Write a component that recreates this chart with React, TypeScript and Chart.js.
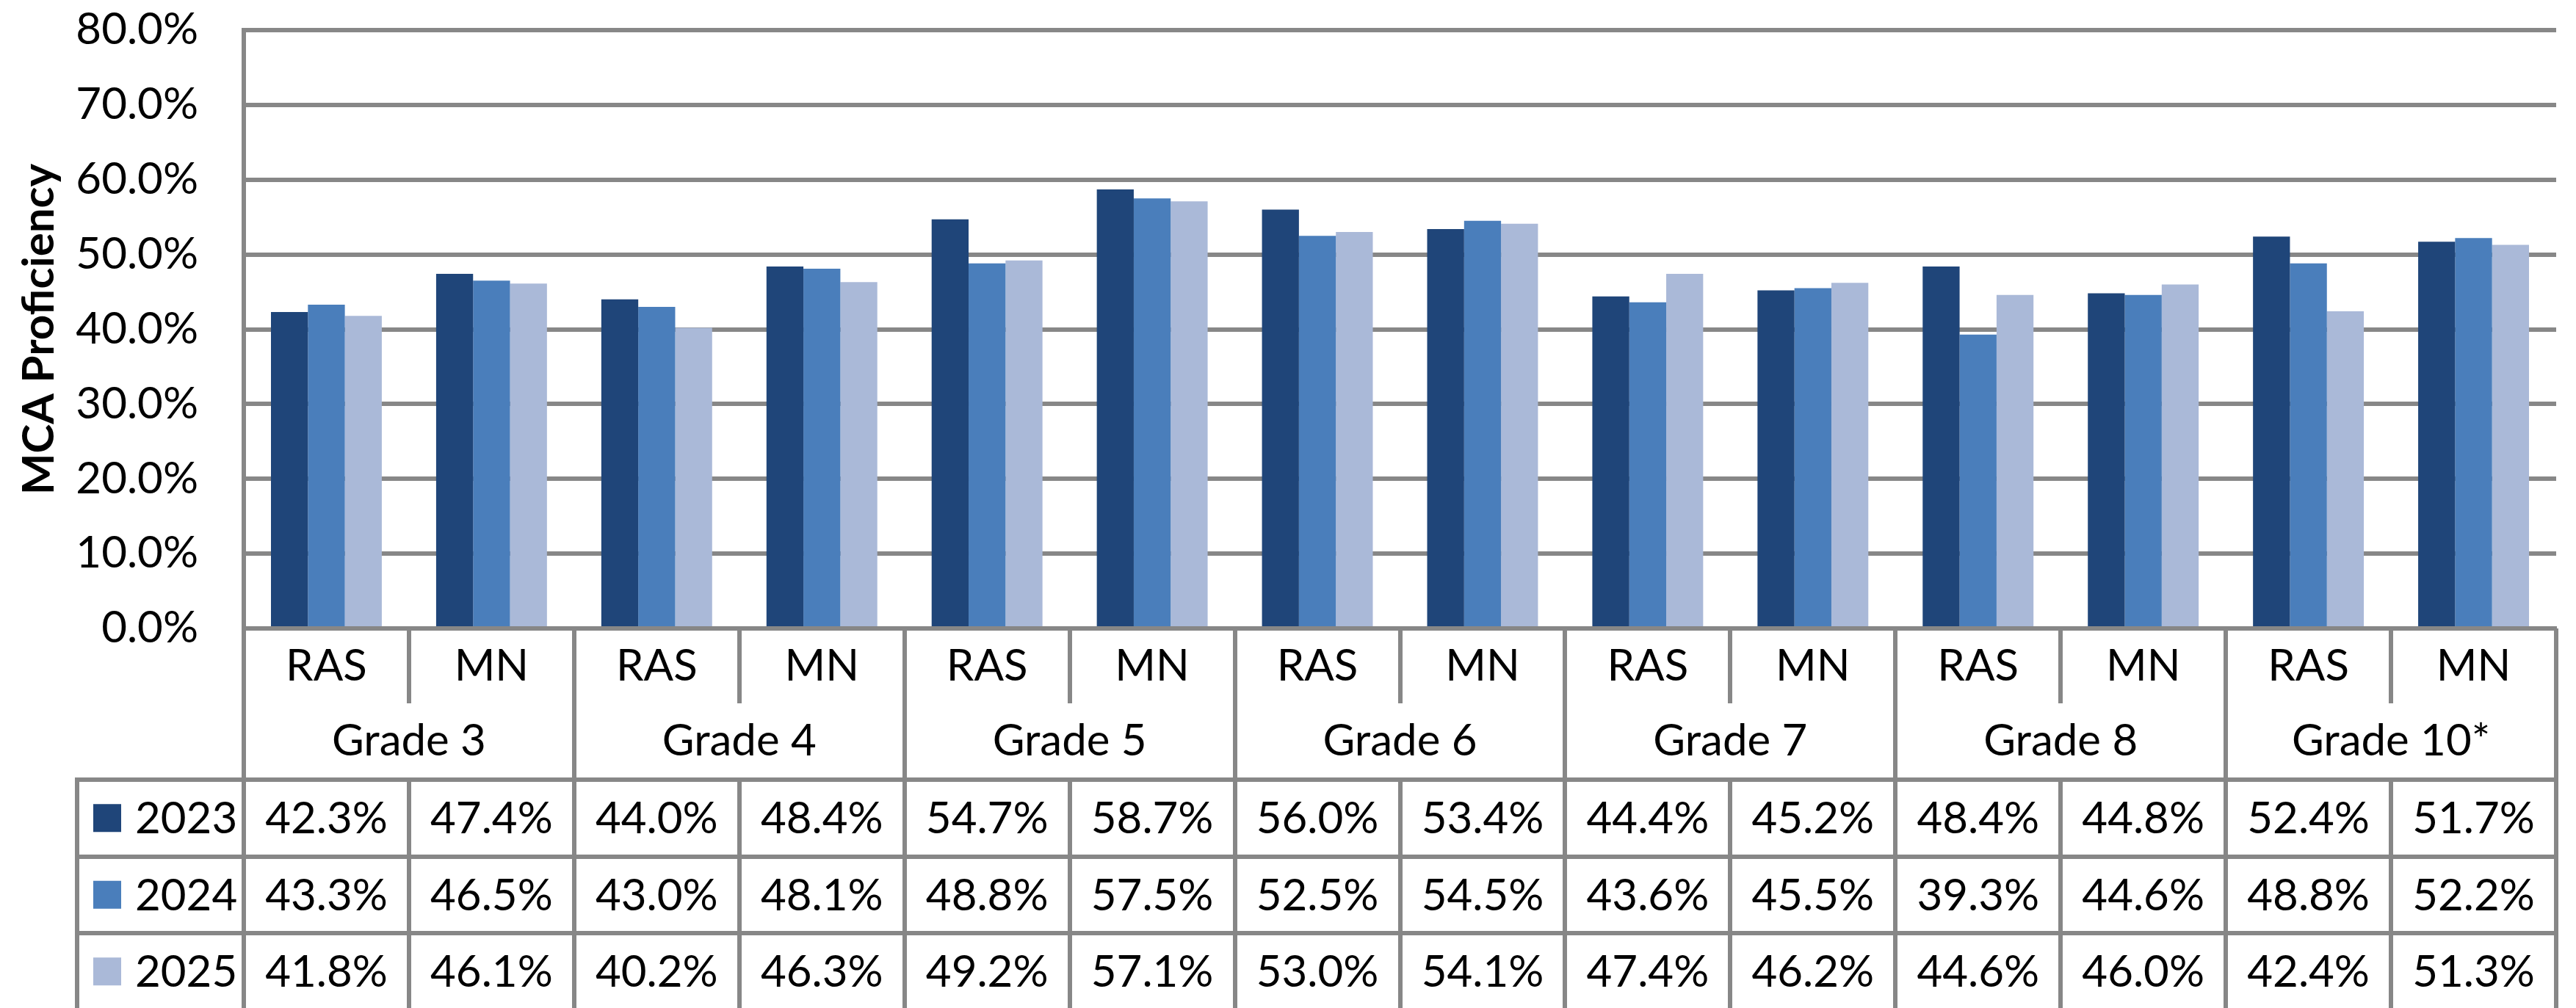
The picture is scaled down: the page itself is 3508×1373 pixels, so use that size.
import React, { useEffect, useRef } from 'react';
import { Chart, registerables } from 'chart.js';

Chart.register(...registerables);

// ---------- data ----------
const subgroups = ['RAS', 'MN', 'RAS', 'MN', 'RAS', 'MN', 'RAS', 'MN', 'RAS', 'MN', 'RAS', 'MN', 'RAS', 'MN'];
const grades = ['Grade 3', 'Grade 4', 'Grade 5', 'Grade 6', 'Grade 7', 'Grade 8', 'Grade 10*'];
const years = ['2023', '2024', '2025'];
const values2023 = [42.3, 47.4, 44.0, 48.4, 54.7, 58.7, 56.0, 53.4, 44.4, 45.2, 48.4, 44.8, 52.4, 51.7];
const values2024 = [43.3, 46.5, 43.0, 48.1, 48.8, 57.5, 52.5, 54.5, 43.6, 45.5, 39.3, 44.6, 48.8, 52.2];
const values2025 = [41.8, 46.1, 40.2, 46.3, 49.2, 57.1, 53.0, 54.1, 47.4, 46.2, 44.6, 46.0, 42.4, 51.3];
const yMin = 0;
const yMax = 80;
const yStep = 10;
const yAxisTitle = 'MCA Proficiency';

// ---------- styles ----------
const W = 3508;
const H = 1373;
const COLORS = ['#1F4579', '#4A7EBB', '#AAB9D8'];
const LINE = '#878787';
const LINE_W = 6;
const FONT = 'Lato';
const FS = 60;

const PLOT_LEFT = 332;
const PLOT_TOP = 41;
const PLOT_RIGHT_PAD = 27;
const PLOT_BOTTOM = 856;
const CAT_ROW_H = 102;
const GRADE_ROW_H = 104;
const DATA_ROW_H = 104.5;
const LEGEND_LEFT = 105;
const SWATCH = 38;
const SWATCH_X = 127;
const LEGEND_TEXT_X = 184;

const seriesValues = [values2023, values2024, values2025];

const tablePlugin = {
  id: 'dataTable',
  afterDraw(chart: any) {
    const { ctx, chartArea } = chart;
    const x = chart.scales.x;
    const n = subgroups.length;
    const left = chartArea.left;
    const right = chartArea.right;
    const cw = (right - left) / n;
    const y0 = chartArea.bottom;
    const catBottom = y0 + CAT_ROW_H;
    const gradeBottom = catBottom + GRADE_ROW_H;
    const tableBottom = gradeBottom + DATA_ROW_H * years.length + 10;

    ctx.save();
    ctx.strokeStyle = LINE;
    ctx.lineWidth = LINE_W;
    ctx.lineCap = 'butt';
    const line = (x1: number, y1: number, x2: number, y2: number) => {
      ctx.beginPath();
      ctx.moveTo(x1, y1);
      ctx.lineTo(x2, y2);
      ctx.stroke();
    };
    for (let i = 0; i <= n; i++) {
      const xx = Math.round(left + i * cw);
      if (i % 2 === 0) {
        line(xx, y0, xx, tableBottom);
      } else {
        line(xx, y0, xx, catBottom);
        line(xx, gradeBottom, xx, tableBottom);
      }
    }
    line(LEGEND_LEFT, gradeBottom - LINE_W / 2, LEGEND_LEFT, tableBottom);
    for (let r = 0; r < years.length; r++) {
      const yy = Math.round(gradeBottom + r * DATA_ROW_H);
      line(LEGEND_LEFT - LINE_W / 2, yy, right + LINE_W / 2, yy);
    }

    ctx.fillStyle = '#000000';
    ctx.font = `${FS}px ${FONT}`;
    ctx.textBaseline = 'alphabetic';
    ctx.textAlign = 'center';
    subgroups.forEach((s, i) => {
      ctx.fillText(s, x.getPixelForValue(i), y0 + 71);
    });
    grades.forEach((g, j) => {
      const cx = (x.getPixelForValue(2 * j) + x.getPixelForValue(2 * j + 1)) / 2;
      ctx.fillText(g, cx, catBottom + 71);
    });
    years.forEach((yr, r) => {
      const base = gradeBottom + r * DATA_ROW_H + 73;
      const rowTop = gradeBottom + r * DATA_ROW_H;
      seriesValues[r].forEach((v, i) => {
        ctx.textAlign = 'center';
        ctx.fillText(v.toFixed(1) + '%', x.getPixelForValue(i), base);
      });
      ctx.fillStyle = COLORS[r];
      ctx.fillRect(SWATCH_X, rowTop + DATA_ROW_H / 2 - SWATCH / 2, SWATCH, SWATCH);
      ctx.fillStyle = '#000000';
      ctx.textAlign = 'left';
      ctx.fillText(yr, LEGEND_TEXT_X, base);
    });
    ctx.restore();
  },
};

export default function App() {
  const canvasRef = useRef<HTMLCanvasElement | null>(null);

  useEffect(() => {
    const canvas = canvasRef.current;
    if (!canvas) return;
    const chart = new Chart(canvas, {
      type: 'bar',
      data: {
        labels: subgroups,
        datasets: years.map((yr, k) => ({
          label: yr,
          data: seriesValues[k],
          backgroundColor: COLORS[k],
          borderWidth: 0,
          barPercentage: 1,
          categoryPercentage: 0.671,
        })),
      },
      options: {
        responsive: false,
        animation: false,
        devicePixelRatio: 1,
        layout: {
          padding: { left: 0, top: PLOT_TOP, right: PLOT_RIGHT_PAD, bottom: 0 },
        },
        plugins: {
          legend: { display: false },
          tooltip: { enabled: false },
          title: { display: false },
        },
        scales: {
          x: {
            type: 'category',
            z: 1,
            grid: { display: false, drawTicks: false },
            border: { display: true, color: LINE, width: LINE_W },
            ticks: { display: false },
            afterFit: (s: any) => {
              s.height = H - PLOT_BOTTOM;
              s.paddingLeft = 0;
              s.paddingRight = 0;
            },
          },
          y: {
            min: yMin,
            max: yMax,
            grid: { color: LINE, lineWidth: LINE_W, drawTicks: false },
            border: { display: true, color: LINE, width: LINE_W },
            ticks: {
              stepSize: yStep,
              padding: 62,
              color: '#000000',
              font: { family: FONT, size: FS },
              callback: (v: any) => Number(v).toFixed(1) + '%',
            },
            title: {
              display: true,
              text: yAxisTitle,
              color: '#000000',
              font: { family: FONT, size: FS, weight: 'bold', lineHeight: 1.2 },
              padding: { top: 18, bottom: 0 },
            },
            afterFit: (s: any) => {
              s.width = PLOT_LEFT;
              s.paddingTop = 0;
              s.paddingBottom = 0;
            },
          },
        },
      },
      plugins: [tablePlugin],
    } as any);
    return () => {
      chart.destroy();
    };
  }, []);

  return (
    <div style={{ position: 'fixed', left: 0, top: 0, width: W, height: H, background: '#ffffff' }}>
      <canvas ref={canvasRef} width={W} height={H} style={{ display: 'block', width: W, height: H }} />
    </div>
  );
}
